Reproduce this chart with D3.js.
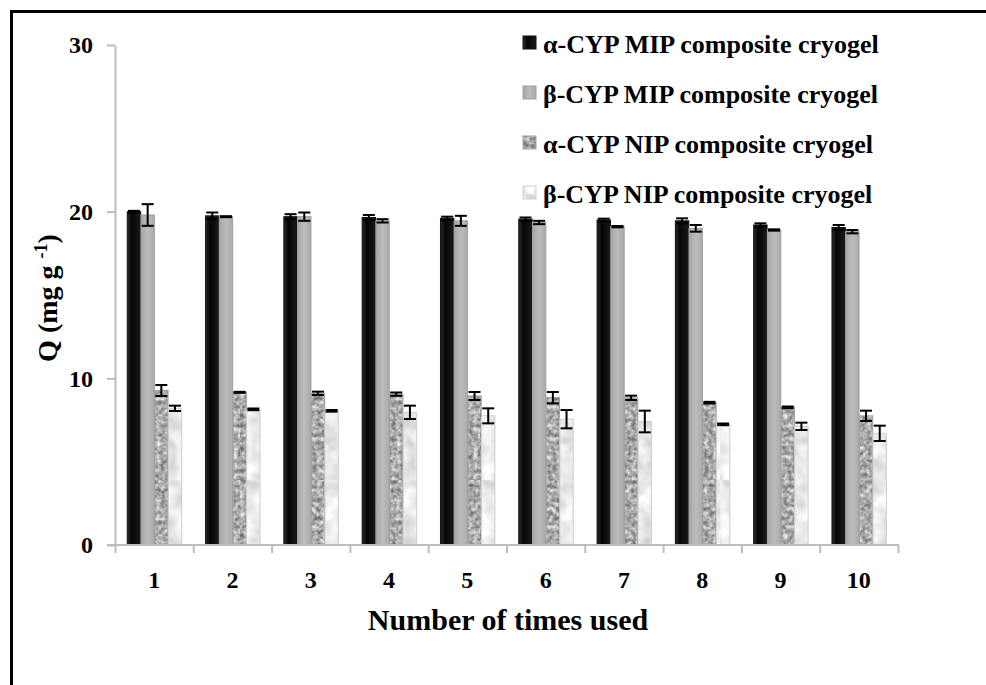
<!DOCTYPE html>
<html>
<head>
<meta charset="utf-8">
<script src="https://cdn.jsdelivr.net/npm/d3@7"></script>
<style>
  body { margin: 0; background: #fff; }
  svg { display: block; }
  text { font-family: "Liberation Serif", "Times New Roman", Times, "DejaVu Serif", serif; font-weight: bold; fill: #000; }
</style>
</head>
<body>
<div id="chart"></div>
<script>
// data
const runs = ['1', '2', '3', '4', '5', '6', '7', '8', '9', '10'];
const seriesNames = ['α-CYP MIP composite cryogel', 'β-CYP MIP composite cryogel',
                     'α-CYP NIP composite cryogel', 'β-CYP NIP composite cryogel'];
const alphaMIP    = [20.0, 19.75, 19.7, 19.65, 19.6, 19.55, 19.5, 19.45, 19.2, 19.05];
const alphaMIPErr = [0.05, 0.2, 0.15, 0.15, 0.1, 0.1, 0.08, 0.15, 0.1, 0.15];
const betaMIP     = [19.8, 19.7, 19.7, 19.45, 19.45, 19.35, 19.1, 19.0, 18.9, 18.8];
const betaMIPErr  = [0.65, 0.03, 0.25, 0.1, 0.3, 0.1, 0.04, 0.2, 0.04, 0.1];
const alphaNIP    = [9.27, 9.16, 9.1, 9.05, 8.94, 8.84, 8.83, 8.54, 8.26, 7.75];
const alphaNIPErr = [0.33, 0.03, 0.1, 0.1, 0.24, 0.34, 0.13, 0.05, 0.05, 0.31];
const betaNIP     = [8.2, 8.14, 8.05, 7.96, 7.75, 7.55, 7.41, 7.24, 7.12, 6.7];
const betaNIPErr  = [0.16, 0.05, 0.05, 0.4, 0.45, 0.55, 0.65, 0.05, 0.22, 0.46];
const yTicks = [0, 10, 20, 30];

const width = 986, height = 685;
const fontFam = '"Liberation Serif", "Times New Roman", Times, "DejaVu Serif", serif';
const svg = d3.select('#chart').append('svg')
  .attr('width', width).attr('height', height);

// frame (only top and left edges fall inside the picture)
svg.append('rect')
  .attr('x', 11.5).attr('y', 11.5)
  .attr('width', 1000).attr('height', 700)
  .attr('fill', 'none').attr('stroke', '#000').attr('stroke-width', 3);

const defs = svg.append('defs');

const gBlack = defs.append('linearGradient').attr('id', 'gBlack');
gBlack.append('stop').attr('offset', '0%').attr('stop-color', '#2a2a2a');
gBlack.append('stop').attr('offset', '35%').attr('stop-color', '#050505');
gBlack.append('stop').attr('offset', '100%').attr('stop-color', '#1a1a1a');

const gGray = defs.append('linearGradient').attr('id', 'gGray');
gGray.append('stop').attr('offset', '0%').attr('stop-color', '#a6a6a6');
gGray.append('stop').attr('offset', '50%').attr('stop-color', '#bcbcbc');
gGray.append('stop').attr('offset', '100%').attr('stop-color', '#ababab');

function noiseFilter(id, freq, slope, intercept) {
  const f = defs.append('filter').attr('id', id)
    .attr('color-interpolation-filters', 'sRGB')
    .attr('x', 0).attr('y', 0).attr('width', '100%').attr('height', '100%');
  f.append('feTurbulence').attr('type', 'fractalNoise')
    .attr('baseFrequency', freq).attr('numOctaves', 2).attr('seed', 3);
  f.append('feColorMatrix').attr('type', 'saturate').attr('values', 0);
  const ct = f.append('feComponentTransfer');
  ['R', 'G', 'B'].forEach(c => ct.append('feFunc' + c).attr('type', 'linear')
    .attr('slope', slope).attr('intercept', intercept));
  ct.append('feFuncA').attr('type', 'linear').attr('slope', 0).attr('intercept', 1);
}
noiseFilter('noiseDark', 0.22, 1.0, 0.17);
noiseFilter('noiseLight', 0.07, 0.4, 0.72);

function noisePattern(id, filterId) {
  const p = defs.append('pattern').attr('id', id)
    .attr('patternUnits', 'userSpaceOnUse').attr('width', 120).attr('height', 120);
  p.append('rect').attr('width', 120).attr('height', 120).attr('filter', `url(#${filterId})`);
}
noisePattern('pNipA', 'noiseDark');
noisePattern('pNipB', 'noiseLight');

const fills = ['url(#gBlack)', 'url(#gGray)', 'url(#pNipA)', 'url(#pNipB)'];
const strokes = ['#111', '#a0a0a0', '#a0a0a0', '#cfcfcf'];

const plotLeft = 115, plotRight = 898, plotTop = 45, plotBottom = 545;

const x0 = d3.scaleBand().domain(runs).range([plotLeft, plotRight]);
const x1 = d3.scaleBand().domain(d3.range(4)).range([12, 67]).padding(0.02);
const y = d3.scaleLinear().domain([0, 30]).range([plotBottom, plotTop]);

const values = [alphaMIP, betaMIP, alphaNIP, betaNIP];
const errors = [alphaMIPErr, betaMIPErr, alphaNIPErr, betaNIPErr];

const rows = [];
runs.forEach((r, i) => {
  values.forEach((vals, s) => rows.push({ run: r, s, v: vals[i], e: errors[s][i] }));
});

// axes
const axisColor = '#bdbdbd';
const yAxis = svg.append('g')
  .attr('transform', `translate(${plotLeft},0)`)
  .call(d3.axisLeft(y).tickValues(yTicks).tickSize(8).tickPadding(14).tickSizeOuter(0));
yAxis.attr('font-family', null);
yAxis.select('.domain').attr('stroke', axisColor).attr('stroke-width', 2);
yAxis.selectAll('.tick line').attr('stroke', axisColor).attr('stroke-width', 2);
yAxis.selectAll('.tick text').attr('font-size', 24).attr('fill', '#000')
  .attr('font-family', fontFam).attr('font-weight', 'bold');

// bars
svg.append('g').selectAll('rect')
  .data(rows)
  .enter().append('rect')
  .attr('x', d => x0(d.run) + x1(d.s))
  .attr('y', d => y(d.v))
  .attr('width', x1.bandwidth())
  .attr('height', d => y(0) - y(d.v))
  .attr('fill', d => fills[d.s])
  .attr('stroke', d => strokes[d.s])
  .attr('stroke-width', 1);

// error bars
const eb = svg.append('g').attr('stroke', '#000').attr('stroke-width', 2).attr('fill', 'none');
const capHalf = 6;
rows.forEach(d => {
  const cx = x0(d.run) + x1(d.s) + x1.bandwidth() / 2;
  const yHi = y(d.v + d.e), yLo = y(d.v - d.e);
  eb.append('line').attr('x1', cx).attr('x2', cx).attr('y1', yHi).attr('y2', yLo);
  eb.append('line').attr('x1', cx - capHalf).attr('x2', cx + capHalf).attr('y1', yHi).attr('y2', yHi);
  eb.append('line').attr('x1', cx - capHalf).attr('x2', cx + capHalf).attr('y1', yLo).attr('y2', yLo);
});

// x axis: line, boundary ticks, labels
const xb = d3.scaleLinear().domain([0, runs.length]).range([plotLeft, plotRight]);
const xAxisTicks = svg.append('g')
  .attr('transform', `translate(0,${plotBottom})`)
  .call(d3.axisBottom(xb).ticks(runs.length).tickSize(8).tickFormat('').tickSizeOuter(0));
xAxisTicks.select('.domain').remove();
xAxisTicks.selectAll('.tick line').attr('stroke', axisColor).attr('stroke-width', 2);
svg.append('line')
  .attr('x1', plotLeft - 8).attr('x2', plotRight + 1)
  .attr('y1', plotBottom).attr('y2', plotBottom)
  .attr('stroke', axisColor).attr('stroke-width', 2);

const xLabels = svg.append('g')
  .attr('transform', `translate(0,${plotBottom})`)
  .call(d3.axisBottom(x0).tickSize(0).tickPadding(26));
xLabels.attr('font-family', null);
xLabels.select('.domain').remove();
xLabels.selectAll('.tick text').attr('font-size', 24).attr('fill', '#000')
  .attr('font-family', fontFam).attr('font-weight', 'bold');

// axis titles
svg.append('text')
  .attr('x', 508).attr('y', 630)
  .attr('text-anchor', 'middle').attr('font-size', 30)
  .text('Number of times used');

const yTitle = svg.append('text')
  .attr('transform', 'translate(57,298) rotate(-90)')
  .attr('text-anchor', 'middle').attr('font-size', 28);
yTitle.append('tspan').text('Q (mg g ');
yTitle.append('tspan').attr('font-size', 18).attr('dy', -10).text('-1');
yTitle.append('tspan').attr('dy', 10).text(')');

// legend
const legend = svg.append('g').attr('transform', 'translate(523,44)');
seriesNames.forEach((name, i) => {
  const g = legend.append('g').attr('transform', `translate(0,${i * 50})`);
  g.append('rect').attr('x', 0).attr('y', -8).attr('width', 13).attr('height', 13)
    .attr('fill', fills[i]).attr('stroke', strokes[i]);
  g.append('text').attr('x', 20).attr('y', 0).attr('dy', '0.35em')
    .attr('font-size', 26).text(name);
});
</script>
</body>
</html>
